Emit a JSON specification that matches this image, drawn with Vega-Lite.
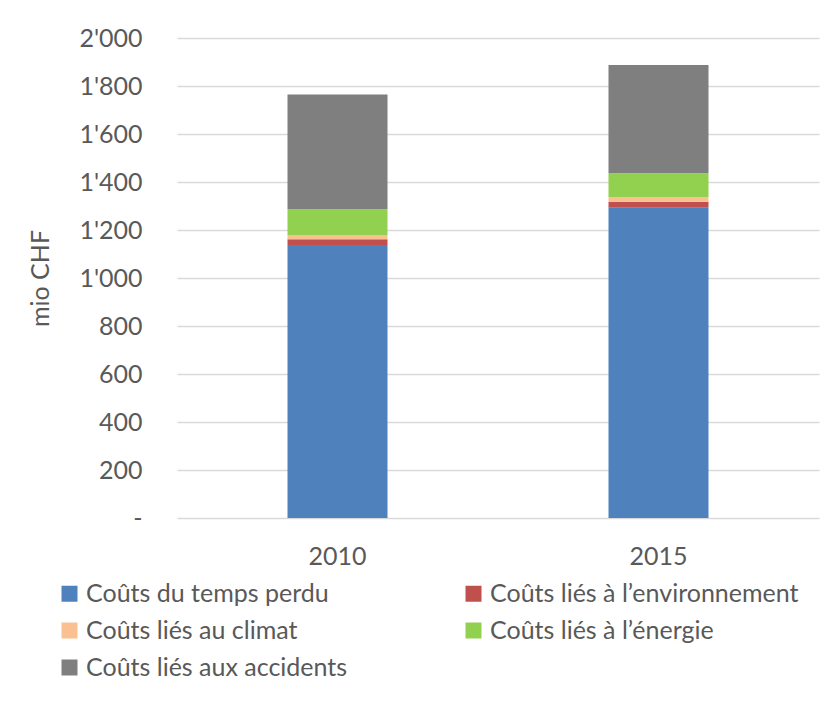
{
  "$schema": "https://vega.github.io/schema/vega-lite/v6.json",
  "width": 642,
  "height": 480,
  "autosize": {"type": "none"},
  "padding": {"left": 177, "top": 38, "right": 14, "bottom": 184},
  "background": "white",
  "config": {
    "font": "Lato",
    "view": {"stroke": null}
  },
  "data": {
    "values": [
      {"annee": "2010", "type": "Coûts du temps perdu", "ordre": 1, "valeur": 1137},
      {"annee": "2010", "type": "Coûts liés à l’environnement", "ordre": 2, "valeur": 24},
      {"annee": "2010", "type": "Coûts liés au climat", "ordre": 3, "valeur": 18},
      {"annee": "2010", "type": "Coûts liés à l’énergie", "ordre": 4, "valeur": 108},
      {"annee": "2010", "type": "Coûts liés aux accidents", "ordre": 5, "valeur": 478},
      {"annee": "2015", "type": "Coûts du temps perdu", "ordre": 1, "valeur": 1293},
      {"annee": "2015", "type": "Coûts liés à l’environnement", "ordre": 2, "valeur": 25},
      {"annee": "2015", "type": "Coûts liés au climat", "ordre": 3, "valeur": 18},
      {"annee": "2015", "type": "Coûts liés à l’énergie", "ordre": 4, "valeur": 100},
      {"annee": "2015", "type": "Coûts liés aux accidents", "ordre": 5, "valeur": 452}
    ]
  },
  "mark": {"type": "bar", "width": 100},
  "encoding": {
    "x": {
      "field": "annee",
      "type": "nominal",
      "title": null,
      "scale": {"paddingInner": 0, "paddingOuter": 0},
      "axis": {
        "labelAngle": 0,
        "labelFontSize": 25,
        "labelColor": "#595959",
        "labelPadding": 26,
        "ticks": false,
        "domain": false,
        "grid": false
      }
    },
    "y": {
      "field": "valeur",
      "type": "quantitative",
      "stack": "zero",
      "title": "mio CHF",
      "scale": {"domain": [0, 2000], "nice": false},
      "axis": {
        "values": [0, 200, 400, 600, 800, 1000, 1200, 1400, 1600, 1800, 2000],
        "labelExpr": "datum.value == 0 ? '-' : replace(format(datum.value, ','), ',', \"'\")",
        "labelFontSize": 25,
        "labelColor": "#595959",
        "labelPadding": 35,
        "ticks": false,
        "domain": false,
        "gridColor": "#D9D9D9",
        "gridWidth": 1.5,
        "titleFontSize": 25,
        "titleFontWeight": "normal",
        "titleColor": "#595959",
        "titleX": -137,
        "titleY": 240,
        "titleAngle": -90,
        "titleAlign": "center",
        "titleBaseline": "middle"
      }
    },
    "color": {
      "field": "type",
      "type": "nominal",
      "sort": ["Coûts du temps perdu", "Coûts liés à l’environnement", "Coûts liés au climat", "Coûts liés à l’énergie", "Coûts liés aux accidents"],
      "scale": {
        "domain": ["Coûts du temps perdu", "Coûts liés à l’environnement", "Coûts liés au climat", "Coûts liés à l’énergie", "Coûts liés aux accidents"],
        "range": ["#4F81BD", "#C0504D", "#FAC090", "#92D050", "#7F7F7F"]
      },
      "legend": {
        "title": null,
        "orient": "none",
        "legendX": -120,
        "legendY": 543,
        "columns": 2,
        "direction": "horizontal",
        "symbolType": "square",
        "symbolSize": 256,
        "symbolStrokeWidth": 0,
        "symbolOffset": 0,
        "labelFontSize": 25,
        "labelColor": "#595959",
        "labelOffset": 4,
        "rowPadding": 11,
        "columnPadding": 113,
        "labelLimit": 400
      }
    },
    "order": {"field": "ordre", "type": "quantitative", "sort": "ascending"}
  }
}
